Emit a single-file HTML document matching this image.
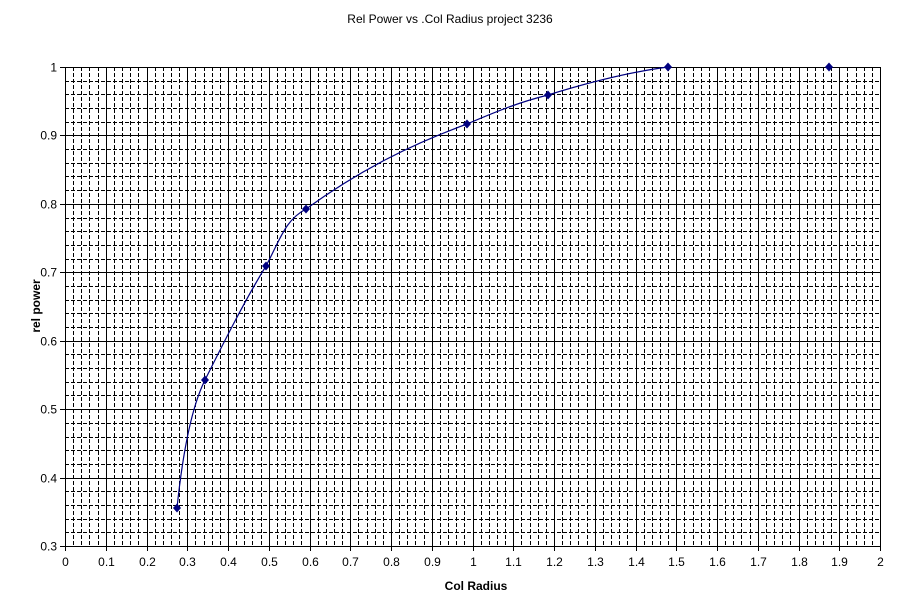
<!DOCTYPE html>
<html><head><meta charset="utf-8"><style>
body{margin:0;background:#fff;width:900px;height:601px;overflow:hidden}
svg{display:block;font-family:"Liberation Sans",Arial,sans-serif}
</style></head><body>
<svg id="s" width="900" height="601" xmlns="http://www.w3.org/2000/svg" shape-rendering="crispEdges">
<rect width="900" height="601" fill="#fff"/>
<text x="450" y="23" font-size="12" text-anchor="middle">Rel Power vs .Col Radius project 3236</text>
<text x="476" y="590" font-size="12" font-weight="bold" text-anchor="middle">Col Radius</text>
<text transform="translate(40,306) rotate(-90)" font-size="12" font-weight="bold" text-anchor="middle">rel power</text>
<g id="g"></g>
<path shape-rendering="auto" d="M177,508 C182,460 190,410 205,380 C225,340 245,300 266,266 C280,240 285,220 306,209 C360,170 410,145 467,124 C500,110 520,102 548,95 C590,82 630,72 668,67" fill="none" stroke="#000080" stroke-width="1.2"/>
<g id="m" fill="#000080" shape-rendering="auto"></g>
</svg>
<script>
var g=document.getElementById('g'),h='';
var L=65,R=880,T=67,B=546;
function X(v){return L+(R-L)*v/2}
function Y(v){return B-(B-T)*(v-0.3)/0.7}
for(var i=0;i<=100;i++){var x=Math.round(X(i*0.02))+0.5;var maj=i%5==0;
h+='<line x1="'+x+'" x2="'+x+'" y1="'+T+'" y2="'+B+'" stroke="#000" stroke-width="1"'+(maj?'':' stroke-dasharray="4,2"')+'/>';}
for(var j=0;j<=35;j++){var y=Math.round(Y(0.3+j*0.02))+0.5;var maj=j%5==0;
h+='<line x1="'+L+'" x2="'+R+'" y1="'+y+'" y2="'+y+'" stroke="#000" stroke-width="1"'+(maj?'':' stroke-dasharray="4,2"')+'/>';}
for(var i=0;i<=20;i++){var x=Math.round(X(i*0.1))+0.5;
h+='<line x1="'+x+'" x2="'+x+'" y1="'+B+'" y2="'+(B+5)+'" stroke="#000"/>';
h+='<text x="'+x+'" y="'+(B+20)+'" font-size="12" text-anchor="middle">'+(i==0?'0':i%10==0?(i/10):(i/10).toFixed(1))+'</text>';}
for(var j=0;j<=7;j++){var y=Math.round(Y(0.3+j*0.1))+0.5;
h+='<line x1="'+(L-5)+'" x2="'+L+'" y1="'+y+'" y2="'+y+'" stroke="#000"/>';
h+='<text x="'+(L-8)+'" y="'+(y+4)+'" font-size="12" text-anchor="end">'+(j==7?'1':(0.3+j*0.1).toFixed(1))+'</text>';}
g.innerHTML=h;
var pts=[[177,508],[205,380],[266,266],[306,209],[467,124],[548,95],[668,67],[829,67]],m='';
pts.forEach(function(p){m+='<polygon points="'+p[0]+','+(p[1]-4.5)+' '+(p[0]+4)+','+p[1]+' '+p[0]+','+(p[1]+4.5)+' '+(p[0]-4)+','+p[1]+'"/>';});
document.getElementById('m').innerHTML=m;
</script>
</body></html>
